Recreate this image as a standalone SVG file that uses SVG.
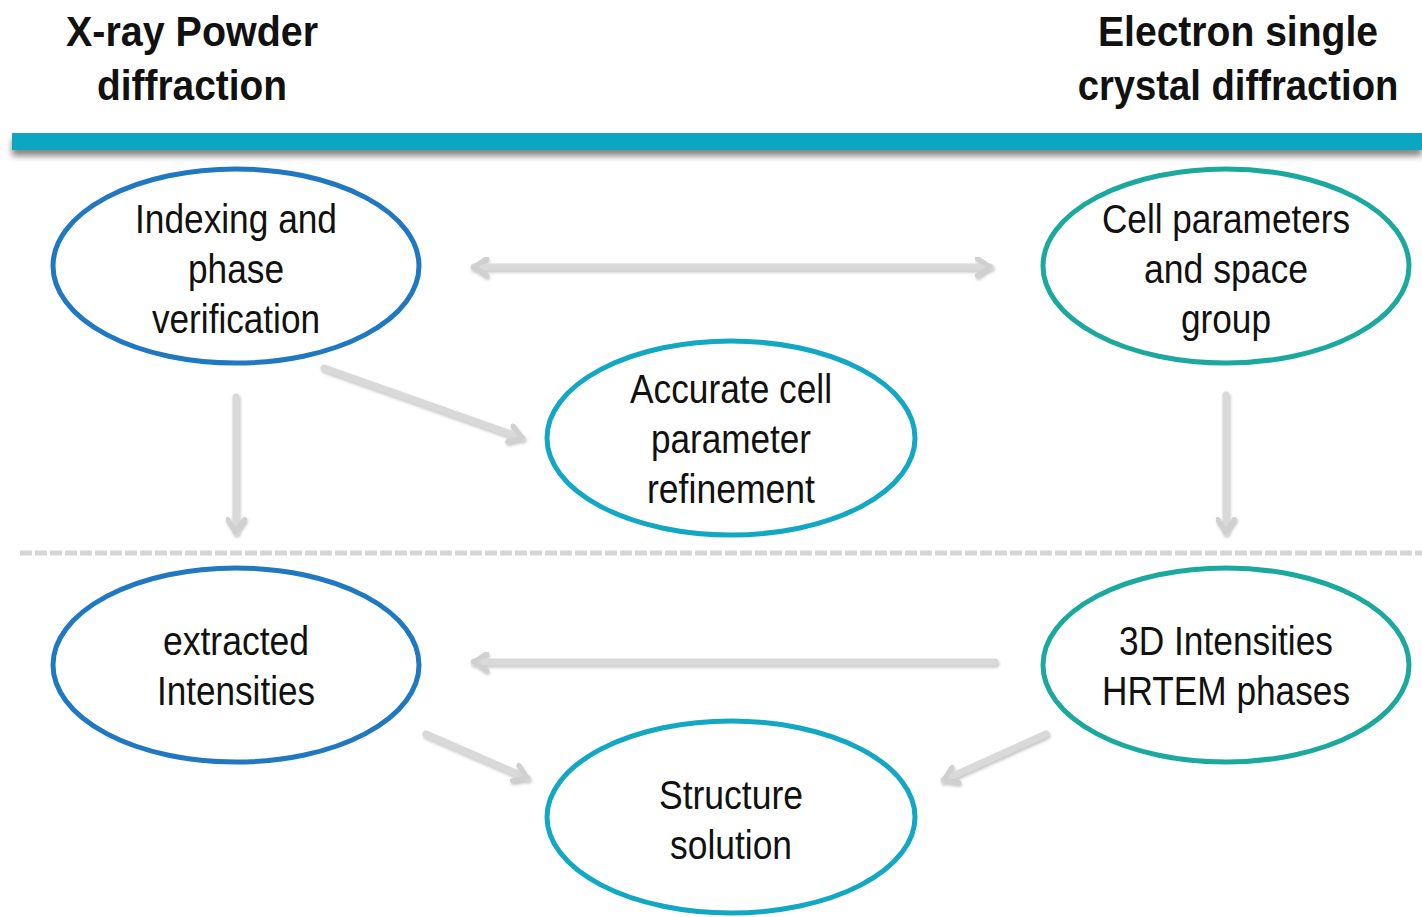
<svg xmlns="http://www.w3.org/2000/svg" width="1422" height="917" viewBox="0 0 1422 917">
<defs>
<style>
.t{font-family:"Liberation Sans",Arial,sans-serif;font-size:40px;fill:#111;text-anchor:middle}
.h{font-family:"Liberation Sans",Arial,sans-serif;font-size:42px;font-weight:bold;fill:#111;text-anchor:middle}
.blue{fill:#fff;stroke:#1F78C0;stroke-width:5}
.teal{fill:#fff;stroke:#1BA99E;stroke-width:5}
.cyan{fill:#fff;stroke:#12A7C2;stroke-width:5}
.arr{stroke:#d9d9d9;stroke-width:7;fill:none;stroke-linecap:round;filter:url(#sh)}
</style>
<marker id="ah" viewBox="0 0 10 10" refX="7" refY="5" markerWidth="3" markerHeight="3" orient="auto-start-reverse" markerUnits="strokeWidth">
<path d="M1,1 L7,5 L1,9" fill="none" stroke="#d0d0d0" stroke-width="2.4" stroke-linecap="round" stroke-linejoin="round"/>
</marker>
<filter id="sh" filterUnits="userSpaceOnUse" x="0" y="0" width="1422" height="917">
<feDropShadow dx="1" dy="2" stdDeviation="1.5" flood-color="#888" flood-opacity="0.5"/>
</filter>
<filter id="bsh" filterUnits="userSpaceOnUse" x="0" y="120" width="1422" height="60">
<feDropShadow dx="0" dy="6" stdDeviation="3" flood-color="#555" flood-opacity="0.7"/>
</filter>
</defs>
<rect width="1422" height="917" fill="#fff"/>
<g id="headers">
<text class="h" x="192" y="46" textLength="252" lengthAdjust="spacingAndGlyphs">X-ray Powder</text>
<text class="h" x="192" y="100" textLength="190" lengthAdjust="spacingAndGlyphs">diffraction</text>
<text class="h" x="1238" y="46" textLength="280" lengthAdjust="spacingAndGlyphs">Electron single</text>
<text class="h" transform="translate(1238,100) scale(0.91,1)" x="0" y="0">crystal diffraction</text>
</g>
<rect id="bar" x="12" y="133" width="1410" height="17" fill="#0AA6C0" filter="url(#bsh)"/>
<line id="divider" x1="20" y1="553" x2="1422" y2="553" stroke="#d6d6d6" stroke-width="5" stroke-dasharray="12 3"/>
<g id="connectors">
<line class="arr" x1="474" y1="267" x2="990" y2="267" marker-start="url(#ah)" marker-end="url(#ah)"/>
<line class="arr" x1="324" y1="368" x2="522" y2="438" marker-end="url(#ah)"/>
<line class="arr" x1="236" y1="397" x2="236" y2="532" marker-end="url(#ah)"/>
<line class="arr" x1="1226" y1="395" x2="1226" y2="532" marker-end="url(#ah)"/>
<line class="arr" x1="995" y1="662" x2="474" y2="662" marker-end="url(#ah)"/>
<line class="arr" x1="426" y1="734" x2="527" y2="778" marker-end="url(#ah)"/>
<line class="arr" x1="1046" y1="734" x2="944" y2="780" marker-end="url(#ah)"/>
</g>
<g id="indexing">
<ellipse class="blue" cx="236" cy="266" rx="183" ry="97"/>
<text class="t" x="236" y="233" textLength="202" lengthAdjust="spacingAndGlyphs">Indexing and</text>
<text class="t" x="236" y="283" textLength="96" lengthAdjust="spacingAndGlyphs">phase</text>
<text class="t" x="236" y="333" textLength="168" lengthAdjust="spacingAndGlyphs">verification</text>
</g>
<g id="cellparams">
<ellipse class="teal" cx="1226" cy="266" rx="183" ry="97"/>
<text class="t" x="1226" y="233" textLength="248" lengthAdjust="spacingAndGlyphs">Cell parameters</text>
<text class="t" x="1226" y="283" textLength="164" lengthAdjust="spacingAndGlyphs">and space</text>
<text class="t" x="1226" y="333" textLength="90" lengthAdjust="spacingAndGlyphs">group</text>
</g>
<g id="accurate">
<ellipse class="cyan" cx="731" cy="438" rx="184" ry="97"/>
<text class="t" x="731" y="403" textLength="202" lengthAdjust="spacingAndGlyphs">Accurate cell</text>
<text class="t" x="731" y="453" textLength="160" lengthAdjust="spacingAndGlyphs">parameter</text>
<text class="t" x="731" y="503" textLength="168" lengthAdjust="spacingAndGlyphs">refinement</text>
</g>
<g id="extracted">
<ellipse class="blue" cx="236" cy="665" rx="183" ry="97"/>
<text class="t" x="236" y="655" textLength="146" lengthAdjust="spacingAndGlyphs">extracted</text>
<text class="t" x="236" y="705" textLength="158" lengthAdjust="spacingAndGlyphs">Intensities</text>
</g>
<g id="intensities3d">
<ellipse class="teal" cx="1226" cy="665" rx="183" ry="97"/>
<text class="t" x="1226" y="655" textLength="214" lengthAdjust="spacingAndGlyphs">3D Intensities</text>
<text class="t" x="1226" y="705" textLength="248" lengthAdjust="spacingAndGlyphs">HRTEM phases</text>
</g>
<g id="structure">
<ellipse class="cyan" cx="731" cy="817" rx="184" ry="96"/>
<text class="t" x="731" y="809" textLength="144" lengthAdjust="spacingAndGlyphs">Structure</text>
<text class="t" x="731" y="859" textLength="122" lengthAdjust="spacingAndGlyphs">solution</text>
</g>
</svg>
